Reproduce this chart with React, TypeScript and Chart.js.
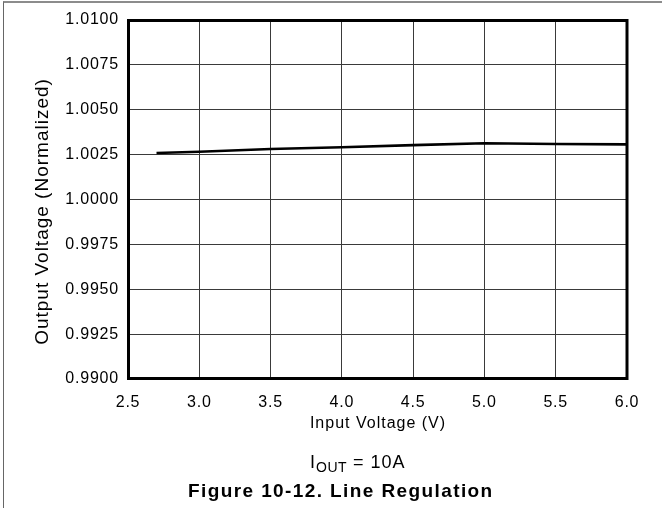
import React, { useEffect, useRef } from "react";
import { Chart, registerables } from "chart.js";

Chart.register(...registerables);

// ---- data ----
const inputVoltage = [2.7, 3.0, 3.5, 4.0, 4.5, 5.0, 5.5, 6.0];
const outputVoltage = [1.00259, 1.00266, 1.00281, 1.00291, 1.00303, 1.00313, 1.00309, 1.00307];
const xTickValues = [2.5, 3.0, 3.5, 4.0, 4.5, 5.0, 5.5, 6.0];
const yTickValues = [0.99, 0.9925, 0.995, 0.9975, 1.0, 1.0025, 1.005, 1.0075, 1.01];
const xTitle = "Input Voltage (V)";
const yTitle = "Output Voltage (Normalized)";
const conditionMain = "I";
const conditionSub = "OUT";
const conditionRest = " = 10A";
const figureCaption = "Figure 10-12. Line Regulation";

const FONT = '"Liberation Sans", Arial, Helvetica, sans-serif';

const decorPlugin = {
  id: "decor",
  beforeDraw(chart: any) {
    const ctx = chart.ctx as any;
    ctx.letterSpacing = "0.8px";
  },
  afterDraw(chart: any) {
    const ctx = chart.ctx as any;
    const { left, top, right, bottom } = chart.chartArea;
    ctx.save();
    // plot frame
    ctx.strokeStyle = "#000";
    ctx.lineWidth = 3;
    ctx.strokeRect(left + 0.5, top + 0.5, right - left - 0.5, bottom - top - 1);

    ctx.fillStyle = "#000";
    // x title
    ctx.letterSpacing = "1px";
    ctx.font = `16px ${FONT}`;
    ctx.textAlign = "center";
    ctx.textBaseline = "alphabetic";
    ctx.fillText(xTitle, (left + right) / 2 + 0.5, 428);

    // y title
    ctx.save();
    ctx.translate(48, 211.5);
    ctx.rotate(-Math.PI / 2);
    ctx.font = `19px ${FONT}`;
    ctx.letterSpacing = "1px";
    ctx.textAlign = "center";
    ctx.fillText(yTitle, 0, 0);
    ctx.restore();

    // condition text with subscript
    ctx.textAlign = "left";
    let x = 310;
    ctx.font = `18px ${FONT}`;
    ctx.letterSpacing = "1px";
    ctx.fillText(conditionMain, x, 468);
    x += ctx.measureText(conditionMain).width;
    ctx.font = `14px ${FONT}`;
    ctx.letterSpacing = "0.5px";
    ctx.fillText(conditionSub, x, 472);
    x += ctx.measureText(conditionSub).width;
    ctx.font = `18px ${FONT}`;
    ctx.letterSpacing = "1px";
    ctx.fillText(conditionRest, x, 468);

    // figure caption
    ctx.font = `bold 19px ${FONT}`;
    ctx.letterSpacing = "1.4px";
    ctx.fillText(figureCaption, 188, 497);
    ctx.restore();
  },
};

export default function App() {
  const canvasRef = useRef<HTMLCanvasElement | null>(null);

  useEffect(() => {
    const canvas = canvasRef.current;
    if (!canvas) return;
    const chart = new Chart(canvas, {
      type: "line",
      data: {
        datasets: [
          {
            data: inputVoltage.map((v, i) => ({ x: v, y: outputVoltage[i] })),
            borderColor: "#000",
            borderWidth: 2.6,
            pointRadius: 0,
            tension: 0,
            fill: false,
          },
        ],
      },
      options: {
        animation: false,
        responsive: false,
        devicePixelRatio: 1,
        layout: { padding: { left: 0, top: 20, right: 35, bottom: 0 } },
        plugins: {
          legend: { display: false },
          tooltip: { enabled: false },
          title: { display: false },
        },
        scales: {
          x: {
            type: "linear",
            min: 2.5,
            max: 6.0,
            afterBuildTicks: (scale: any) => {
              scale.ticks = xTickValues.map((v) => ({ value: v }));
            },
            afterFit: (scale: any) => {
              scale.height = 129;
            },
            ticks: {
              autoSkip: false,
              maxRotation: 0,
              padding: 14,
              color: "#000",
              font: { family: FONT, size: 16 },
              callback: (v: any) => Number(v).toFixed(1),
            },
            grid: { color: "#3a3a3a", lineWidth: 1, drawTicks: false },
            border: { display: false },
          },
          y: {
            type: "linear",
            min: 0.99,
            max: 1.01,
            afterBuildTicks: (scale: any) => {
              scale.ticks = yTickValues.map((v) => ({ value: v }));
            },
            afterFit: (scale: any) => {
              scale.width = 128;
            },
            ticks: {
              autoSkip: false,
              padding: 9,
              color: "#000",
              font: { family: FONT, size: 16 },
              callback: (v: any) => Number(v).toFixed(4),
            },
            grid: { color: "#3a3a3a", lineWidth: 1, drawTicks: false },
            border: { display: false },
          },
        },
      },
      plugins: [decorPlugin],
    } as any);
    return () => chart.destroy();
  }, []);

  return (
    <div
      style={{
        position: "absolute",
        left: 0,
        top: 0,
        width: 662,
        height: 508,
        background: "#fff",
        overflow: "hidden",
      }}
    >
      <div
        style={{
          position: "absolute",
          left: 3,
          top: 1,
          width: 700,
          height: 600,
          borderTop: "2px solid #8c8c8c",
          borderLeft: "1px solid #666",
          pointerEvents: "none",
        }}
      />
      <canvas
        ref={canvasRef}
        width={662}
        height={508}
        style={{ position: "absolute", left: 0, top: 0, width: 662, height: 508 }}
      />
    </div>
  );
}
